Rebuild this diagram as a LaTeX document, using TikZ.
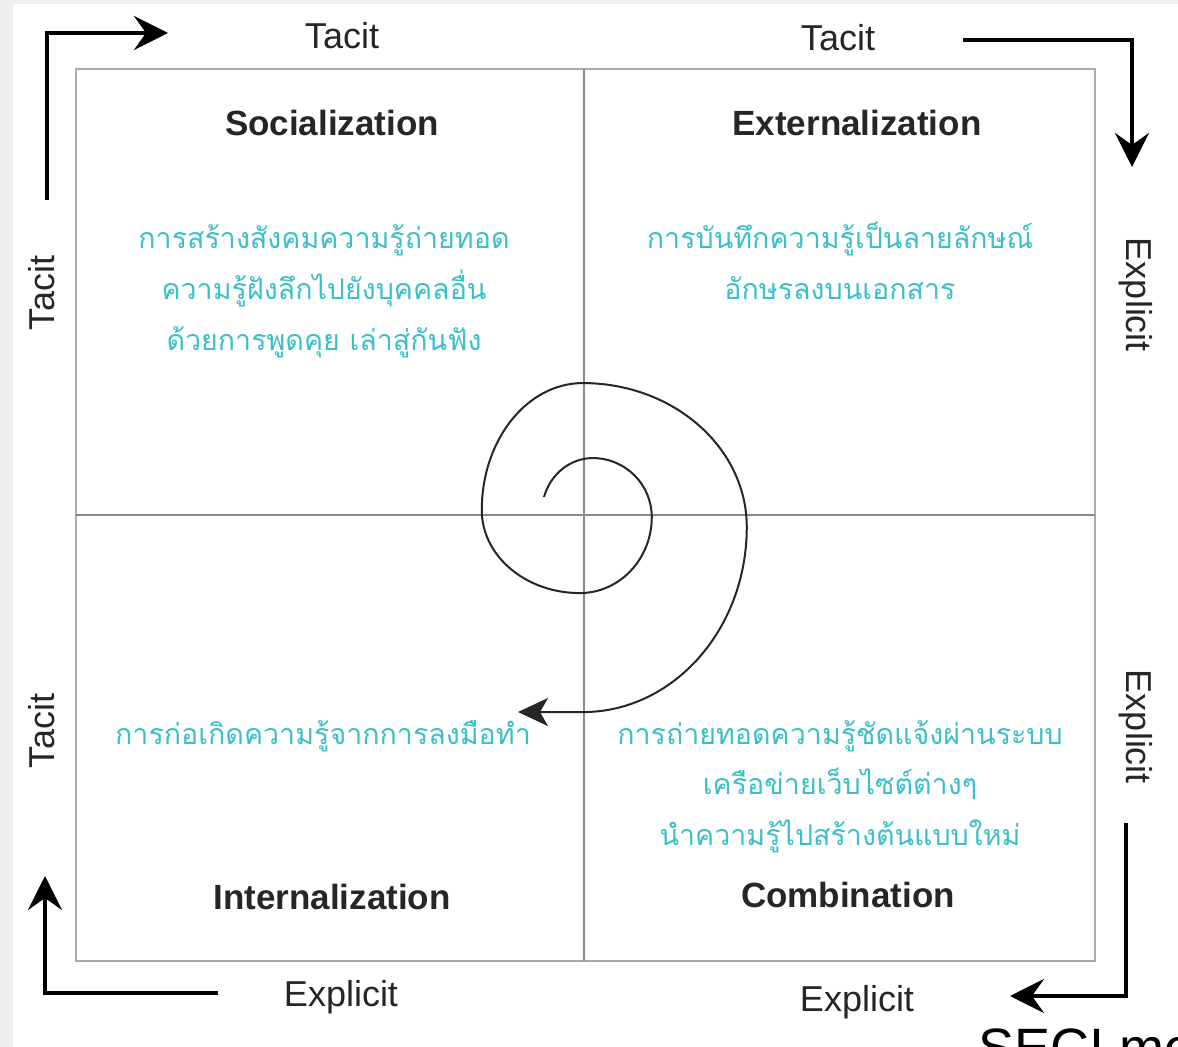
\documentclass[tikz,border=0pt]{standalone}
\usepackage{fontspec}
\setmainfont{Liberation Sans}
\newfontfamily\thaifont[Script=Thai]{Loma}
\usetikzlibrary{arrows.meta}
\definecolor{thaiteal}{HTML}{3BBFC8}
\definecolor{gridgray}{HTML}{8A8A8A}
\definecolor{framegray}{HTML}{ABABAB}
\definecolor{pagegray}{HTML}{EFEFEF}
\definecolor{inkgray}{HTML}{262626}

\begin{document}
\begin{tikzpicture}[x=0.5pt,y=-0.5pt,
  flowarrow/.style={line width=2pt, line join=miter, -{Stealth[length=17pt,width=17pt,inset=6pt]}},
  spiralarrow/.style={line width=1pt, draw=inkgray, -{Stealth[length=15pt,width=14pt,inset=4pt]}},
  axislabel/.style={font=\fontsize{18}{20}\selectfont, text=inkgray, inner sep=0pt},
  modelabel/.style={font=\fontsize{17.5}{20}\selectfont\bfseries, text=inkgray, inner sep=0pt, anchor=base},
  thailine/.style={font=\thaifont\fontsize{14.3}{20}\selectfont, text=thaiteal, inner sep=0pt, anchor=base},
  gridline/.style={draw=gridgray, line width=1pt},
]
% page and frame
\useasboundingbox (0,0) rectangle (1178,1047);
\fill[pagegray] (0,0) rectangle (1178,1047);
\fill[white] (13,4) rectangle (1178,1047);
\draw[framegray, line width=1.2pt] (76,69) rectangle (1095,961);

% quadrant dividers
\coordinate (vtop) at (584,69);
\coordinate (vbot) at (584,961);
\coordinate (hleft) at (76,515);
\coordinate (hright) at (1095,515);
\draw[gridline] (vtop) -- (vbot);
\draw[gridline] (hleft) -- (hright);

% corner flow arrows
\coordinate (tl0) at (47,200); \coordinate (tl1) at (47,33); \coordinate (tl2) at (168,33);
\coordinate (tr0) at (963,40); \coordinate (tr1) at (1132,40); \coordinate (tr2) at (1132,167);
\coordinate (br0) at (1126,823); \coordinate (br1) at (1126,996); \coordinate (br2) at (1010,996);
\coordinate (bl0) at (218,993); \coordinate (bl1) at (45,993); \coordinate (bl2) at (45,876);
\draw[flowarrow] (tl0) -- (tl1) -- (tl2);
\draw[flowarrow] (tr0) -- (tr1) -- (tr2);
\draw[flowarrow] (br0) -- (br1) -- (br2);
\draw[flowarrow] (bl0) -- (bl1) -- (bl2);

% axis labels
\node[axislabel, anchor=base] (tacitA) at (342,49) {Tacit};
\node[axislabel, anchor=base] (tacitB) at (838,51) {Tacit};
\node[axislabel, anchor=base] (explA) at (341,1006) {Explicit};
\node[axislabel, anchor=base] (explB) at (857,1011) {Explicit};
\node[axislabel, rotate=90] (tacitC) at (42,293) {Tacit};
\node[axislabel, rotate=90] (tacitD) at (42,731) {Tacit};
\node[axislabel, rotate=-90] (explC) at (1136,295) {Explicit};
\node[axislabel, rotate=-90] (explD) at (1136,727) {Explicit};

% mode titles
\node[modelabel] (soc) at (332,136) {Socialization};
\node[modelabel] (ext) at (857,136) {Externalization};
\node[modelabel] (int) at (332,909) {Internalization};
\node[modelabel] (com) at (848,907) {Combination};

% descriptions
\node[thailine] (socA) at (324,249) {การสร้างสังคมความรู้ถ่ายทอด};
\node[thailine] (socB) at (324,300) {ความรู้ฝังลึกไปยังบุคคลอื่น};
\node[thailine] (socC) at (324,351) {ด้วยการพูดคุย เล่าสู่กันฟัง};
\node[thailine] (extA) at (840,249) {การบันทึกความรู้เป็นลายลักษณ์};
\node[thailine] (extB) at (840,300) {อักษรลงบนเอกสาร};
\node[thailine] (intA) at (323,744) {การก่อเกิดความรู้จากการลงมือทำ};
\node[thailine] (comA) at (840,744) {การถ่ายทอดความรู้ชัดแจ้งผ่านระบบ};
\node[thailine] (comB) at (840,794) {เครือข่ายเว็บไซต์ต่างๆ};
\node[thailine] (comC) at (840,845) {นำความรู้ไปสร้างต้นแบบใหม่};

% knowledge spiral
\coordinate (sp0) at (544,497);
\coordinate (spend) at (518,712);
\draw[spiralarrow] (sp0)
  arc[start angle=197, end angle=270, x radius=51, y radius=55]
  arc[start angle=270, end angle=360, x radius=59, y radius=59]
  arc[start angle=360, end angle=450, x radius=72, y radius=76]
  arc[start angle=450, end angle=540, x radius=98, y radius=83]
  arc[start angle=540, end angle=630, x radius=101, y radius=127]
  arc[start angle=630, end angle=720, x radius=164, y radius=144]
  arc[start angle=720, end angle=810, x radius=164, y radius=185]
  -- (spend);

% caption running off the lower edge
\begin{scope}
\clip (0,0) rectangle (1178,1047);
\node[font=\fontsize{27}{30}\selectfont, text=black, inner sep=0pt, anchor=base west] (caption) at (978,1066) {SECI model};
\end{scope}
\end{tikzpicture}
\end{document}
